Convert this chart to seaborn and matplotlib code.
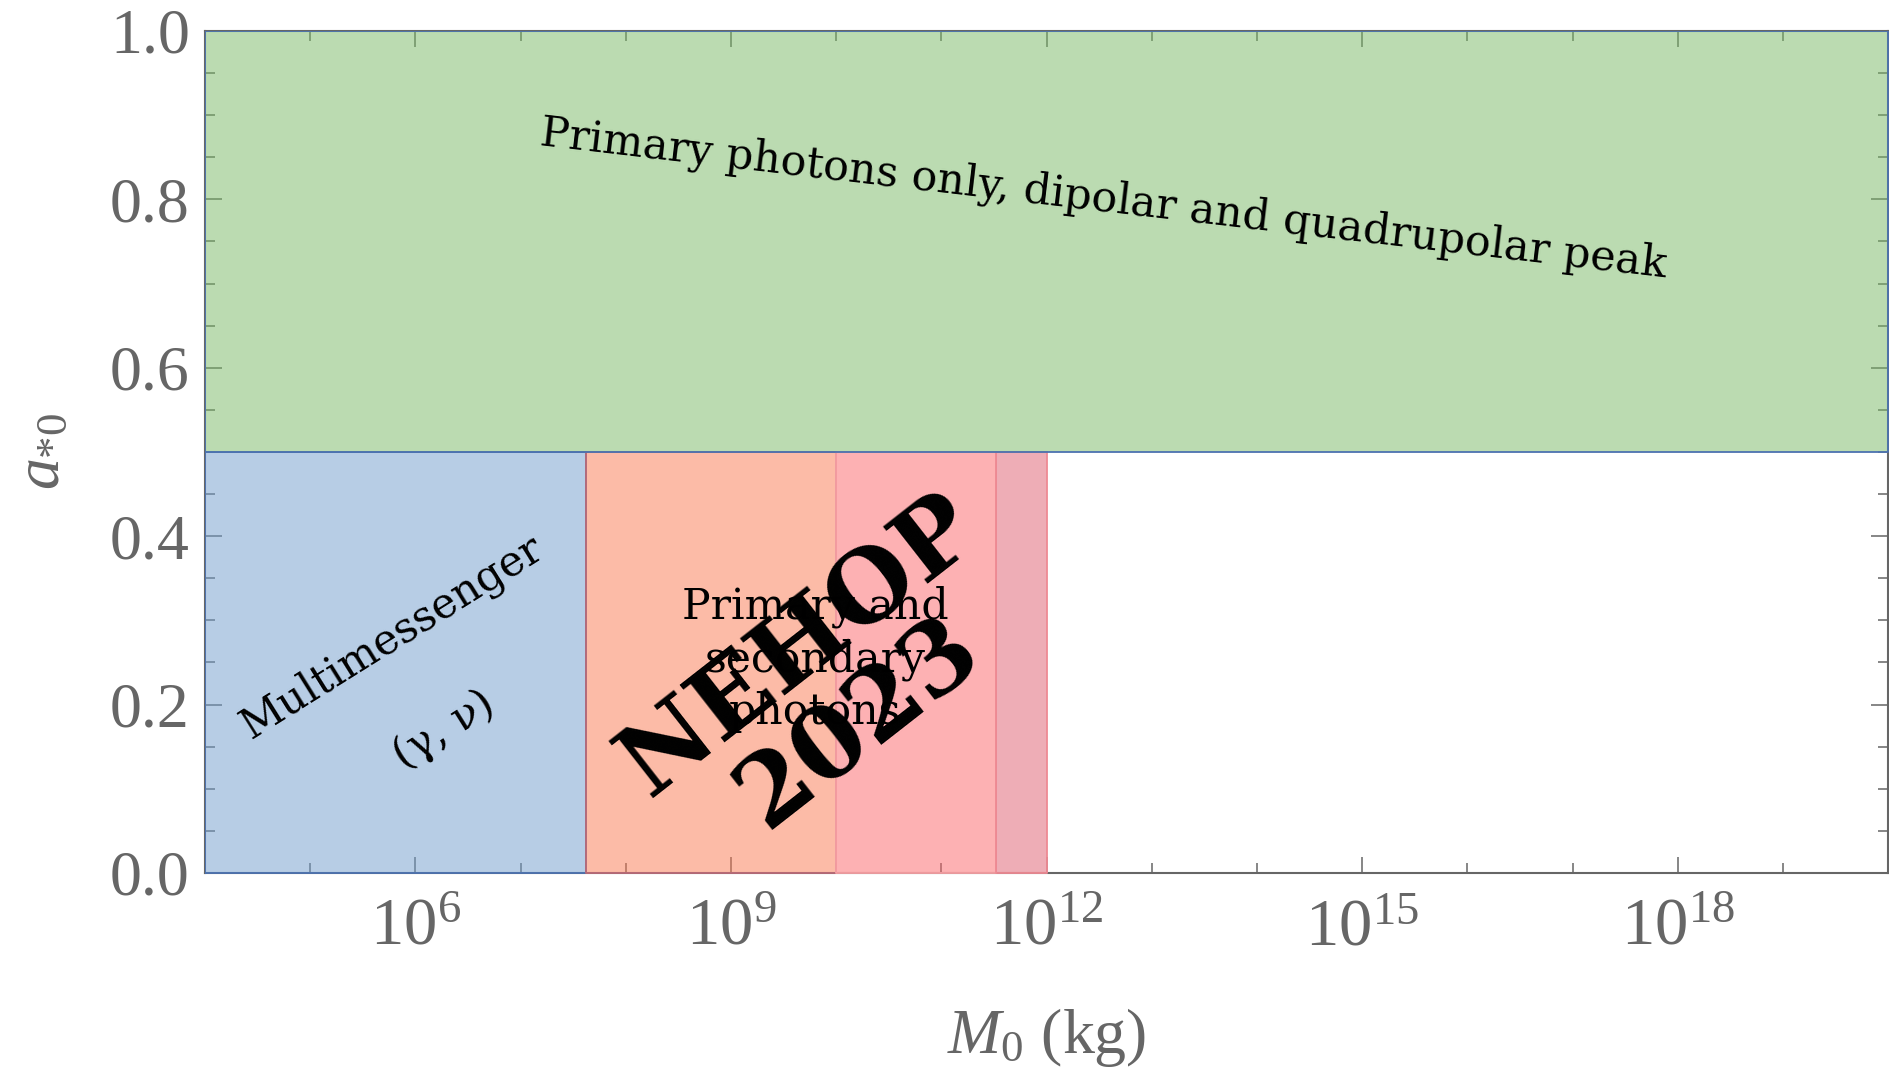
import matplotlib
matplotlib.use("Agg")
import matplotlib.pyplot as plt
import seaborn as sns
from matplotlib.ticker import FixedLocator, NullFormatter, FixedFormatter

# ---------------- data ----------------
region_names = ["Primary photons only", "Multimessenger",
                "Primary+secondary A", "Primary+secondary B", "Primary+secondary C"]
mass_low = [1e4, 1e4, 4.2e7, 1e10, 3.3e11]
mass_high = [1e20, 4.2e7, 1e10, 3.3e11, 1e12]
spin_low = [0.5, 0.0, 0.0, 0.0, 0.0]
spin_high = [1.0, 0.5, 0.5, 0.5, 0.5]
face_rgb = ["#79b965", "#719dcd", "#fb7951", "#fd6569", "#df5d6f"]
edge_rgb = ["#4c72b0", "#4c72b0", "#b86a78", "#f6a0a4", "#ee8a94"]

x_limits = [1e4, 1e20]
y_limits = [0.0, 1.0]
x_major_exp = [6, 9, 12, 15, 18]
x_minor_exp = [5, 7, 8, 10, 11, 13, 14, 16, 17, 19]
y_major = [0.0, 0.2, 0.4, 0.6, 0.8, 1.0]
y_major_labels = ["0.0", "0.2", "0.4", "0.6", "0.8", "1.0"]
y_minor = [0.05, 0.1, 0.15, 0.25, 0.3, 0.35, 0.45, 0.5, 0.55,
           0.65, 0.7, 0.75, 0.85, 0.9, 0.95]

label_green = "Primary photons only, dipolar and quadrupolar peak"
label_multi = "Multimessenger"
label_particles = "(γ, ν)"
label_secondary = "Primary and\nsecondary\nphotons"
watermark = "NEHOP\n2023"
xlabel = r"$M_0$ (kg)"
ylabel = r"$a_{*0}$"

# ---------------- style ----------------
sns.set_theme(style="ticks")
grey = "#666666"
plt.rcParams.update({
    "font.family": ["Liberation Serif", "DejaVu Serif"],
    "mathtext.fontset": "custom",
    "mathtext.rm": "Liberation Serif",
    "mathtext.it": "Liberation Serif:italic",
    "mathtext.bf": "Liberation Serif:bold",
    "axes.edgecolor": grey,
    "axes.linewidth": 1.5,
})

fig = plt.figure(figsize=(18.9, 10.68), dpi=100)
ax = fig.add_axes([0.1085, 0.1826, 0.8905, 0.7884])
ax.set_xscale("log")
ax.set_xlim(*x_limits)
ax.set_ylim(*y_limits)

order = [1, 2, 3, 4, 0]
for i in order:
    fc = matplotlib.colors.to_rgb(face_rgb[i]) + (0.5,)
    ax.fill_between([mass_low[i], mass_high[i]], spin_low[i], spin_high[i],
                    facecolor=fc, edgecolor=edge_rgb[i], linewidth=1.3,
                    zorder=3)

# ticks
ax.xaxis.set_major_locator(FixedLocator([10.0 ** e for e in x_major_exp]))
ax.xaxis.set_major_formatter(FixedFormatter([r"$10^{%d}$" % e for e in x_major_exp]))
ax.xaxis.set_minor_locator(FixedLocator([10.0 ** e for e in x_minor_exp]))
ax.xaxis.set_minor_formatter(NullFormatter())
ax.yaxis.set_major_locator(FixedLocator(y_major))
ax.yaxis.set_major_formatter(FixedFormatter(y_major_labels))
ax.yaxis.set_minor_locator(FixedLocator(y_minor))

ax.tick_params(which="both", direction="in", top=True, right=True,
               color=grey, width=1.1, labelcolor=grey)
ax.tick_params(axis="y", which="major", length=12, pad=11, labelsize=46)
ax.tick_params(axis="y", which="minor", length=7)
ax.tick_params(axis="x", which="major", length=11.5, pad=18, labelsize=48)
ax.tick_params(axis="x", which="minor", length=7)

ax.set_xlabel(xlabel, fontsize=46, color=grey)
ax.set_ylabel(ylabel, fontsize=46, color=grey)
ax.xaxis.set_label_coords(0.5, -0.158)
ax.yaxis.set_label_coords(-0.078, 0.5)

# annotations
serif = "DejaVu Serif"
ax.text(3.5e12, 0.80, label_green, family=serif, fontsize=30.8, rotation=-6.7,
        ha="center", va="center", rotation_mode="anchor", color="black", zorder=5)
ax.text(10 ** 5.78, 0.28, label_multi, family=serif, fontsize=30.5, rotation=32,
        ha="center", va="center", rotation_mode="anchor", color="black", zorder=5)
ax.text(10 ** 6.27, 0.17, label_particles, family=serif, fontsize=30.5, rotation=32,
        ha="center", va="center", rotation_mode="anchor", color="black", zorder=5)
ax.text(6.3e9, 0.254, label_secondary, family=serif, fontsize=30.7,
        ha="center", va="center", multialignment="center", linespacing=1.3,
        color="black", zorder=5)
ax.text(10 ** 9.93, 0.224, watermark, family=serif, fontweight="bold",
        fontsize=72, rotation=38, ha="center", va="center",
        multialignment="center", rotation_mode="anchor", linespacing=1.0,
        color="black", zorder=6)

fig.savefig("out.png", dpi=100)
